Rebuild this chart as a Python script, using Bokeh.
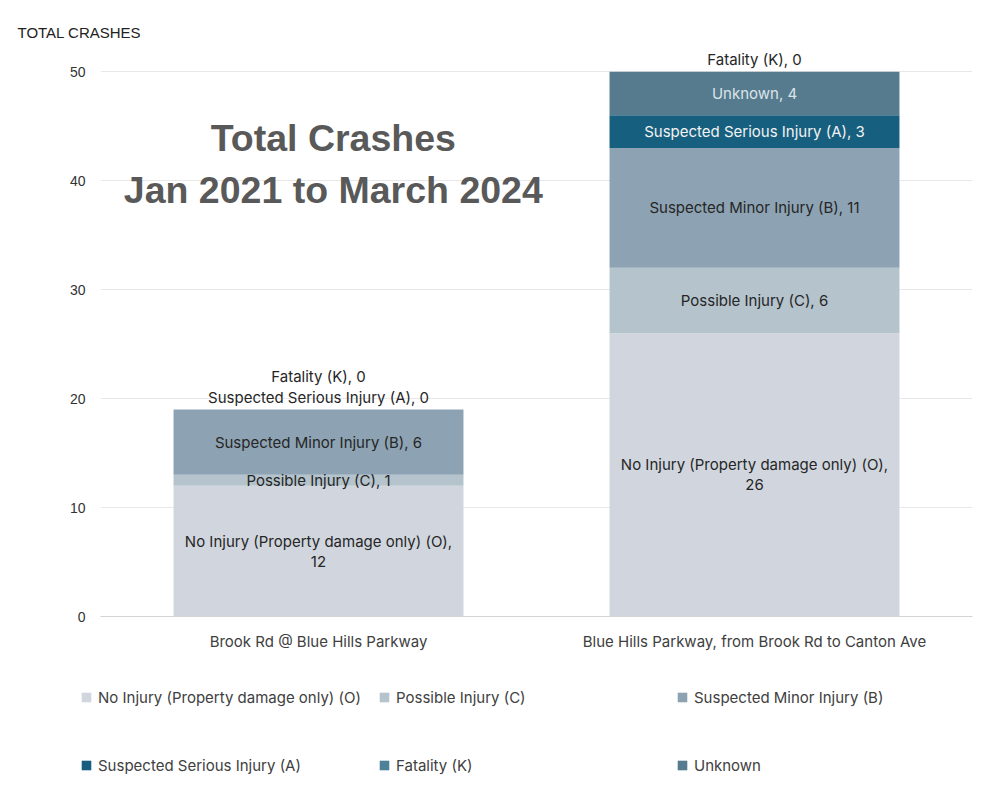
from bokeh.plotting import figure
from bokeh.layouts import column
from bokeh.models import ColumnDataSource, FactorRange, Range1d, FixedTicker, Legend, LegendItem, Label
from bokeh.core.properties import value
from bokeh.embed import file_html
from bokeh.resources import INLINE

# ---------------- data ----------------
locations = ["Brook Rd @ Blue Hills Parkway",
             "Blue Hills Parkway, from Brook Rd to Canton Ave"]
severities = ["No Injury (Property damage only) (O)", "Possible Injury (C)",
              "Suspected Minor Injury (B)", "Suspected Serious Injury (A)",
              "Fatality (K)", "Unknown"]
no_injury = [12, 26]
possible_injury = [1, 6]
minor_injury = [6, 11]
serious_injury = [0, 3]
fatality = [0, 0]
unknown = [None, 4]
y_ticks = [0, 10, 20, 30, 40, 50]
title_lines = ["Total Crashes", "Jan 2021 to March 2024"]
y_title = "TOTAL CRASHES"

series = [no_injury, possible_injury, minor_injury, serious_injury, fatality, unknown]
colors = ["#d1d6de", "#b5c3cc", "#8da3b3", "#175f7f", "#4e8298", "#567b8e"]
label_colors = ["#262626", "#262626", "#262626", "#f2f2f2", "#262626", "#dde4e8"]

FONT = "Inter"
FS = "15px"
W = 973

keys = [f"s{j}" for j in range(len(severities))]
data = {"loc": locations}
for k, s in zip(keys, series):
    data[k] = [0 if v is None else v for v in s]
src = ColumnDataSource(data)

p = figure(width=W, height=660, output_backend="svg", toolbar_location=None,
           x_range=FactorRange(*locations), y_range=Range1d(0, 52.4), frame_align=False,
           min_border_left=100, min_border_right=1, min_border_top=45, min_border_bottom=44)
p.outline_line_color = None

renderers = p.vbar_stack(keys, x="loc", width=0.665, source=src, color=colors,
                         line_color=None)

# data labels
lx, ly, lt, lc, lo = [], [], [], [], []
for i, loc in enumerate(locations):
    total = sum(s[i] for s in series if s[i] is not None)
    cum = 0
    zk = 0
    for j, s in enumerate(series):
        v = s[i]
        if v is None:
            continue
        name = severities[j]
        if v > 0:
            txt = f"{name}, {v}" if j != 0 else f"{name},\n{v}"
            lx.append(loc); ly.append(cum + v / 2); lt.append(txt)
            lc.append(label_colors[j]); lo.append(0)
        else:
            lx.append(loc); ly.append(total); lt.append(f"{name}, {v}")
            lc.append("#262626"); lo.append(-(12 + 21 * zk))
            zk += 1
        cum += v
lsrc = ColumnDataSource(dict(x=lx, y=ly, text=lt, color=lc, yoff=lo))
p.text(x="x", y="y", text="text", source=lsrc, text_align="center",
       text_baseline="middle", text_color="color", y_offset="yoff",
       text_font=value(FONT), text_font_size=FS, text_line_height=1.05)

# axes
p.xaxis.axis_line_color = "#d4d4d4"
p.xaxis.major_tick_line_color = None
p.xaxis.major_tick_out = 0
p.xaxis.major_label_standoff = 15
p.xaxis.major_label_text_font = FONT
p.xaxis.major_label_text_font_size = FS
p.xaxis.major_label_text_color = "#404040"

p.yaxis.ticker = FixedTicker(ticks=y_ticks)
p.yaxis.axis_line_color = None
p.yaxis.major_tick_line_color = None
p.yaxis.minor_tick_line_color = None
p.yaxis.major_tick_out = 0
p.yaxis.major_label_standoff = 15
p.yaxis.major_label_text_font = "Liberation Sans"
p.yaxis.major_label_text_font_size = "14px"
p.yaxis.major_label_text_color = "#333333"

p.xgrid.grid_line_color = None
p.ygrid.grid_line_color = "#e8e8e8"

# axis title (top-left) and in-chart title
p.title.text = y_title
p.title.align = "left"
p.title.offset = -83
p.title.standoff = 10
p.title.text_font = "Liberation Sans"
p.title.text_font_style = "normal"
p.title.text_font_size = "15px"
p.title.text_color = "#222222"

p.add_layout(Label(x=0.534, y=43.9, text=title_lines[0], text_align="center", text_baseline="middle",
                   text_font="Liberation Sans", text_font_style="bold", text_font_size="37.5px",
                   text_color="#595959"))
p.add_layout(Label(x=0.534, y=39.1, text=title_lines[1], text_align="center", text_baseline="middle",
                   text_font="Liberation Sans", text_font_style="bold", text_font_size="37.5px",
                   text_color="#595959"))

# legend in its own strip below the chart (swatch renderers are zero-width bars)
pl = figure(width=W, height=140, output_backend="svg", toolbar_location=None,
            x_range=FactorRange(*locations), y_range=Range1d(0, 1),
            x_axis_type=None, y_axis_type=None, frame_align=False,
            min_border=0, min_border_left=0, min_border_right=0, min_border_top=0, min_border_bottom=0)
pl.outline_line_color = None
pl.xgrid.visible = False
pl.ygrid.visible = False
swatches = pl.vbar_stack(keys, x="loc", width=0, source=src, color=colors, line_color=None)
legend = Legend(items=[LegendItem(label=s, renderers=[r]) for s, r in zip(severities, swatches)],
                orientation="horizontal", ncols=3, location=(80, 1),
                glyph_width=12, glyph_height=12, label_standoff=6,
                label_width=280, label_height=68, spacing=0, padding=0, margin=0,
                border_line_color=None, background_fill_alpha=0,
                label_text_font=FONT, label_text_font_size=FS, label_text_color="#404040")
pl.add_layout(legend, "center")

open("out.html", "w").write(file_html(column(p, pl, spacing=0), INLINE))
